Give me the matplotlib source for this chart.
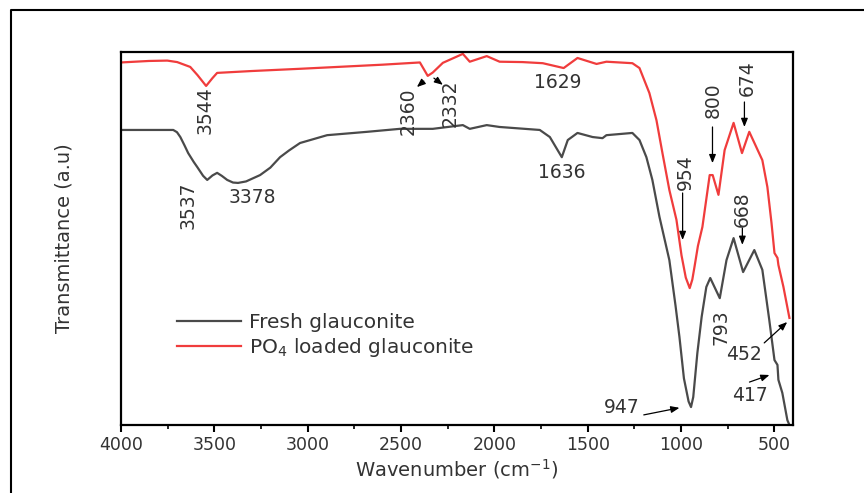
import matplotlib.pyplot as plt
from matplotlib.lines import Line2D

# FTIR spectra, wavenumber (cm-1) vs transmittance (arbitrary units)
wn_fresh = [4000, 3720, 3700, 3682, 3660, 3640, 3610, 3592, 3560, 3538, 3510,
            3485, 3460, 3431, 3400, 3373, 3330, 3255, 3200, 3148, 3100,
            3041, 2896, 2682, 2506, 2330, 2169, 2132, 2041, 1972, 1757, 1703,
            1639, 1607, 1555, 1474, 1421, 1400, 1261, 1223, 1186, 1154, 1116,
            1063, 1030, 1009, 985, 960, 947, 935, 913, 890, 865, 844, 793,
            757, 719, 668, 608, 565, 528, 500, 484, 479, 458, 431, 420]
t_fresh = [79.1, 79.1, 78.5, 77.2, 75.0, 72.9, 70.5, 69.2, 66.8, 65.7, 66.9,
           67.6, 66.8, 65.7, 65.0, 64.9, 65.3, 67.0, 69.0, 71.8, 73.6,
           75.6, 77.7, 78.6, 79.4, 79.4, 80.4, 79.4, 80.4, 79.9, 79.1, 77.2,
           71.8, 76.4, 78.3, 77.2, 76.9, 77.7, 78.3, 76.4, 71.8, 65.7, 55.8,
           44.2, 32.0, 23.6, 12.5, 6.3, 4.8, 7.5, 19.3, 29.0, 37.0, 39.4, 34.0,
           44.2, 50.1, 41.0, 46.9, 41.6, 28.2, 17.4, 16.1, 12.1, 8.6, 1.3, 0.0]

wn_po4 = [4000, 3850, 3752, 3699, 3629, 3590, 3544, 3510, 3485, 3300, 3041,
          2800, 2600, 2399, 2357, 2330, 2276, 2169, 2132, 2041, 1972, 1850,
          1741, 1629, 1555, 1453, 1400, 1261, 1223, 1170, 1132, 1100, 1063,
          1025, 998, 975, 954, 940, 928, 910, 886, 847, 831, 800, 767, 719,
          674, 635, 565, 538, 516, 500, 484, 479, 452, 420]
t_po4 = [97.2, 97.6, 97.7, 97.3, 96.0, 93.8, 90.9, 93.0, 94.4, 94.9, 95.5,
         96.1, 96.6, 97.2, 93.6, 94.5, 97.1, 99.5, 97.4, 98.9, 97.4, 97.3,
         97.0, 95.7, 98.4, 96.8, 97.4, 97.0, 95.7, 89.0, 81.7, 72.9, 63.0,
         55.0, 45.5, 39.5, 36.7, 39.0, 42.5, 48.0, 53.1, 67.0, 67.0, 61.7,
         73.7, 81.0, 72.9, 78.6, 71.0, 63.8, 54.2, 46.1, 44.8, 42.9, 37.0, 28.7]

# peak labels: text, text position, rotation, arrow tail, arrow head
peak_labels = ["3544", "2360", "2332", "1629", "1636", "3537", "3378",
               "954", "800", "674", "668", "793", "452", "417", "947"]
label_pos = [(3548, 84.5), (2463, 84.2), (2239, 86.3), (1662, 91.7),
             (1640, 67.8), (3640, 59.0), (3297, 61.1), (976, 67.8),
             (827, 87.1), (645, 93.0), (672, 57.9), (784, 26.3),
             (661, 18.8), (634, 8.0), (1319, 4.6)]
label_rot = [90, 90, 90, 0, 0, 90, 0, 90, 90, 90, 90, 90, 0, 0, 0]
arrow_from = [None, (2378, 92.2), (2324, 93.0), None, None, None, None,
              (992, 62.2), (832, 79.9), (661, 86.6), (672, 52.8), None,
              (555, 22.0), (634, 11.5), (1200, 2.7)]
arrow_to = [None, (2415, 90.6), (2276, 91.2), None, None, None, None,
            (992, 49.6), (832, 70.2), (661, 79.9), (672, 48.3), None,
            (432, 27.6), (527, 13.4), (1009, 4.6)]

fresh_color = "#4a4a4a"
po4_color = "#f03c3c"
text_color = "#333333"

plt.rcParams['font.family'] = 'DejaVu Sans'
plt.rcParams['mathtext.default'] = 'regular'

fig = plt.figure(figsize=(8.64, 4.93), dpi=100)
ax = fig.add_axes([0.140, 0.138, 0.778, 0.7565])

ax.plot(wn_fresh, t_fresh, color=fresh_color, lw=1.6, label="Fresh glauconite")
ax.plot(wn_po4, t_po4, color=po4_color, lw=1.6, label="PO$_4$ loaded glauconite")

for txt, pos, rot, a0, a1 in zip(peak_labels, label_pos, label_rot, arrow_from, arrow_to):
    ax.text(pos[0], pos[1], txt, rotation=rot, ha='center', va='center',
            fontsize=13.5, color=text_color)
    if a0 is not None:
        ax.annotate("", xy=a1, xytext=a0,
                    arrowprops=dict(arrowstyle='-|>,head_length=0.5,head_width=0.2',
                                    color='black', lw=0.9, shrinkA=0, shrinkB=0))

ax.set_xlim(4000, 400)
ax.set_ylim(0, 100)
ax.set_xticks([4000, 3500, 3000, 2500, 2000, 1500, 1000, 500])
ax.set_xticks([3750, 3250, 2750, 2250, 1750, 1250, 750], minor=True)
ax.set_yticks([])
ax.tick_params(axis='x', which='major', direction='out', length=5, width=1.5,
               labelsize=12.5, labelcolor=text_color, pad=3)
ax.tick_params(axis='x', which='minor', direction='out', length=3, width=1.2)
for s in ax.spines.values():
    s.set_linewidth(1.6)

ax.set_xlabel("Wavenumber (cm$^{-1}$)", fontsize=14, color=text_color, labelpad=2)
ax.set_ylabel("Transmittance (a.u)", fontsize=14, color=text_color, labelpad=34)

ax.legend(loc='center left', bbox_to_anchor=(0.083, 0.239), frameon=False,
          fontsize=14.5, handlelength=3.2, handletextpad=0.4, labelspacing=0.2,
          borderpad=0, borderaxespad=0, labelcolor=text_color)

# outer frame round the figure
fig.add_artist(Line2D([11 / 864, 11 / 864, 1.0], [0.0, 1 - 10 / 493, 1 - 10 / 493],
                      transform=fig.transFigure, color='black', lw=1.5))

fig.savefig("out.png", dpi=100)
